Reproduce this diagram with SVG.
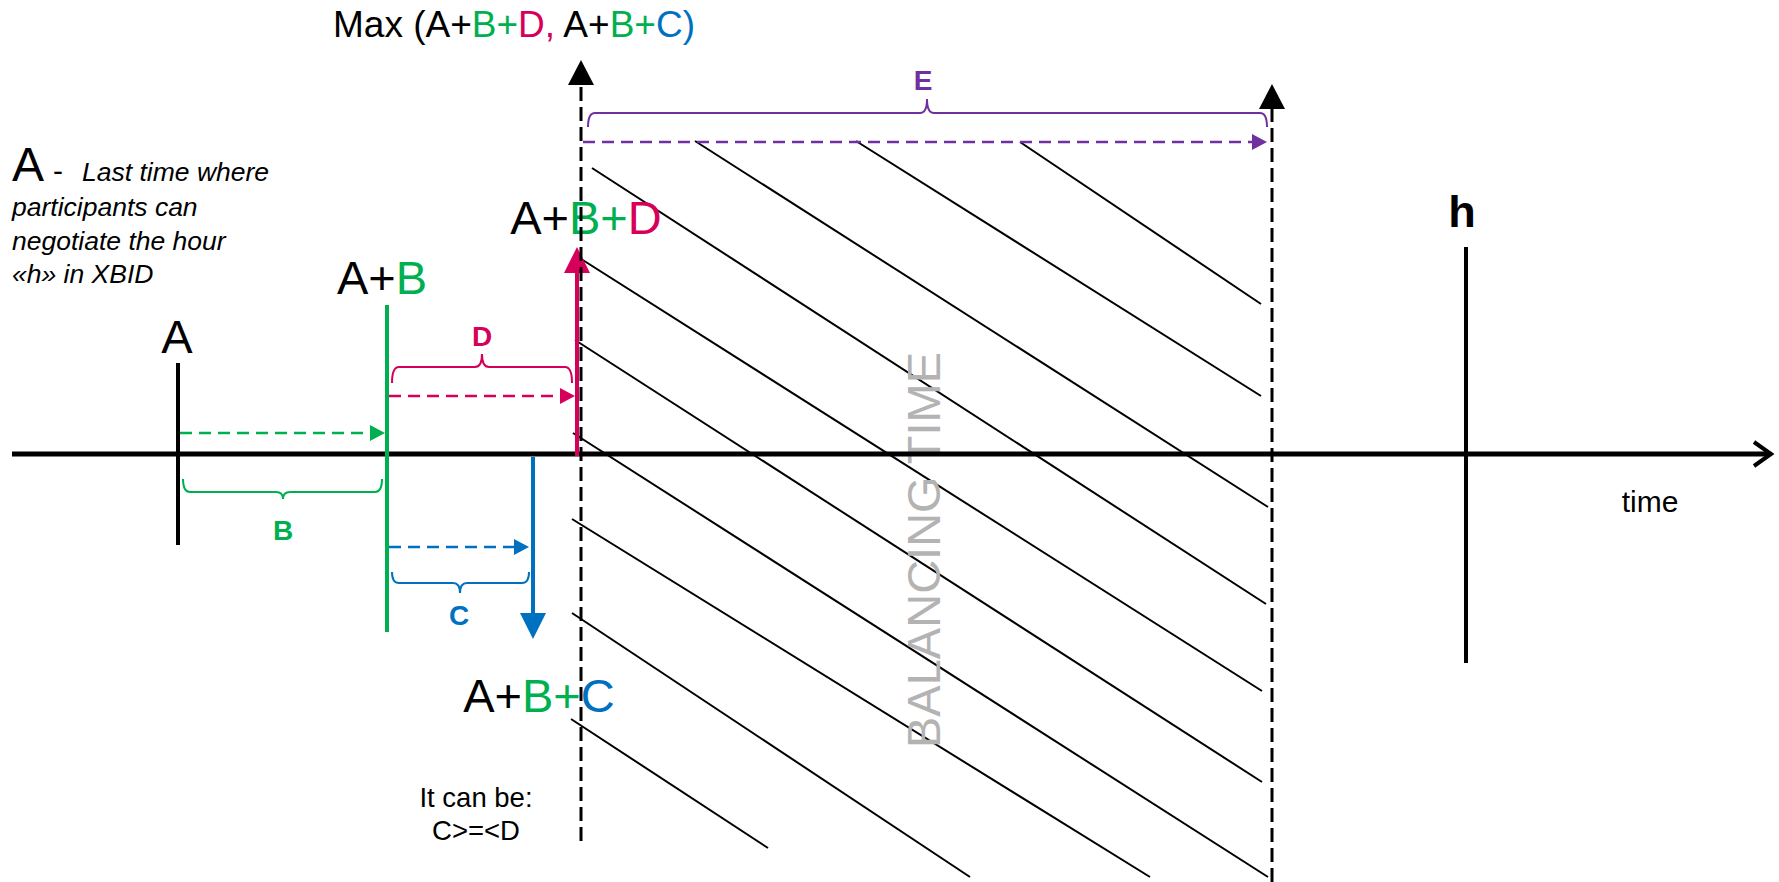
<svg xmlns="http://www.w3.org/2000/svg" width="1779" height="882" viewBox="0 0 1779 882">
<style>
text{font-family:"Liberation Sans",Arial,sans-serif;}
.big{font-size:47px;fill:#000;}
.k{fill:#000}.g{fill:#00B050}.r{fill:#D6005A}.b{fill:#0070C0}.p{fill:#7030A0}
.lbl{font-size:28px;font-weight:bold;text-anchor:middle;}
.note{font-size:26.5px;font-style:italic;fill:#000;}
.hatch{stroke:#000;stroke-width:2;fill:none;}
.brace{fill:none;stroke-width:2;}
.dash{fill:none;stroke-width:2.5;stroke-dasharray:12 7;}
.bdash{fill:none;stroke:#000;stroke-width:3;stroke-dasharray:14 6;}
</style>
<defs>
<marker id="mG" markerUnits="userSpaceOnUse" markerWidth="16" markerHeight="16" refX="0" refY="8" orient="auto"><path d="M0,0 L15,8 L0,16 z" fill="#00B050"/></marker>
<marker id="mR" markerUnits="userSpaceOnUse" markerWidth="16" markerHeight="16" refX="0" refY="8" orient="auto"><path d="M0,0 L15,8 L0,16 z" fill="#D6005A"/></marker>
<marker id="mB" markerUnits="userSpaceOnUse" markerWidth="16" markerHeight="16" refX="0" refY="8" orient="auto"><path d="M0,0 L15,8 L0,16 z" fill="#0070C0"/></marker>
<marker id="mP" markerUnits="userSpaceOnUse" markerWidth="16" markerHeight="16" refX="0" refY="8" orient="auto"><path d="M0,0 L15,8 L0,16 z" fill="#7030A0"/></marker>
<marker id="MR" markerUnits="userSpaceOnUse" markerWidth="28" markerHeight="28" refX="0" refY="13" orient="auto"><path d="M0,0 L26,13 L0,26 z" fill="#D6005A"/></marker>
<marker id="MB" markerUnits="userSpaceOnUse" markerWidth="28" markerHeight="28" refX="0" refY="13" orient="auto"><path d="M0,0 L26,13 L0,26 z" fill="#0070C0"/></marker>
<marker id="MK" markerUnits="userSpaceOnUse" markerWidth="28" markerHeight="28" refX="0" refY="13" orient="auto"><path d="M0,0 L25,13 L0,26 z" fill="#000"/></marker>
</defs>
<rect width="1779" height="882" fill="#fff"/>

<g id="hatching">
<line class="hatch" x1="1020" y1="142" x2="1261" y2="304"/>
<line class="hatch" x1="856" y1="141" x2="1261" y2="396"/>
<line class="hatch" x1="695" y1="141" x2="1268" y2="507"/>
<line class="hatch" x1="592" y1="168" x2="1266" y2="604"/>
<line class="hatch" x1="578" y1="257" x2="1262" y2="691"/>
<line class="hatch" x1="575" y1="340" x2="1262" y2="782"/>
<line class="hatch" x1="573" y1="433" x2="1268" y2="877"/>
<line class="hatch" x1="572" y1="519" x2="1150" y2="877"/>
<line class="hatch" x1="572" y1="613" x2="970" y2="877"/>
<line class="hatch" x1="571" y1="719" x2="768" y2="848"/>
</g>

<text id="balancing-time" transform="translate(940,748) rotate(-90)" font-size="47" fill="#B3B3B3">BALANCING TIME</text>

<g id="axis">
<line x1="12" y1="454" x2="1770" y2="454" stroke="#000" stroke-width="5"/>
<polyline points="1754,442 1771,454 1754,466" fill="none" stroke="#000" stroke-width="4"/>
<text x="1650" y="512" font-size="30" text-anchor="middle">time</text>
</g>

<g id="node-A-desc">
<text x="12" y="181" font-size="48">A</text>
<text x="53" y="181" font-size="30">-</text>
<text class="note" x="82" y="181">Last time where</text>
<text class="note" x="12" y="216">participants can</text>
<text class="note" x="12" y="250">negotiate the hour</text>
<text class="note" x="12" y="283">«h» in XBID</text>
</g>

<g id="node-A">
<line x1="178" y1="363" x2="178" y2="545" stroke="#000" stroke-width="4"/>
<text class="big" x="177" y="353" text-anchor="middle">A</text>
</g>

<g id="node-AB">
<line x1="387" y1="305" x2="387" y2="632" stroke="#00B050" stroke-width="4"/>
<text class="big" x="382" y="294" text-anchor="middle">A+<tspan class="g">B</tspan></text>
</g>

<g id="node-ABD">
<text class="big" x="586" y="234" text-anchor="middle">A+<tspan class="g">B+</tspan><tspan class="r">D</tspan></text>
</g>

<g id="node-ABC">
<text class="big" x="539" y="712" text-anchor="middle">A+<tspan class="g">B+</tspan><tspan class="b">C</tspan></text>
<text x="476" y="807" font-size="27.5" text-anchor="middle">It can be:</text>
<text x="476" y="840" font-size="27.5" text-anchor="middle">C&gt;=&lt;D</text>
</g>

<g id="node-max">
<text x="514" y="37" font-size="37" text-anchor="middle">Max (A+<tspan class="g">B+</tspan><tspan class="r">D,</tspan> A+<tspan class="g">B+</tspan><tspan class="b">C)</tspan></text>
</g>

<g id="node-h">
<line x1="1466" y1="247" x2="1466" y2="663" stroke="#000" stroke-width="4"/>
<text x="1462" y="227" font-size="45" font-weight="bold" text-anchor="middle">h</text>
</g>

<g id="braces">
<path class="brace" stroke="#00B050" d="M183,479 Q183,492 190,492 L276,492 Q283,492 283,499 Q283,492 290,492 L375,492 Q382,492 382,479"/>
<text class="lbl g" x="283" y="540">B</text>
<path class="brace" stroke="#0070C0" d="M392,572 Q392,583 399,583 L453,583 Q460,583 460,593 Q460,583 467,583 L522,583 Q529,583 529,572"/>
<text class="lbl b" x="459" y="625">C</text>
<path class="brace" stroke="#D6005A" d="M392,383 Q392,367 399,367 L475,367 Q482,367 482,354 Q482,367 489,367 L565,367 Q572,367 572,383"/>
<text class="lbl r" x="482" y="346">D</text>
<path class="brace" stroke="#7030A0" d="M588,127 Q588,113 595,113 L920,113 Q927,113 927,99 Q927,113 934,113 L1260,113 Q1267,113 1267,127"/>
<text class="lbl p" x="923" y="90" font-size="30">E</text>
</g>

<g id="connectors">
<line class="dash" stroke="#00B050" x1="180" y1="433" x2="370" y2="433" marker-end="url(#mG)"/>
<line class="dash" stroke="#D6005A" x1="389" y1="396" x2="560" y2="396" marker-end="url(#mR)"/>
<line class="dash" stroke="#0070C0" x1="389" y1="547" x2="514" y2="547" marker-end="url(#mB)"/>
<line class="dash" stroke="#7030A0" x1="583" y1="142" x2="1252" y2="142" marker-end="url(#mP)"/>
<line x1="577" y1="456" x2="577" y2="273" stroke="#D6005A" stroke-width="4" marker-end="url(#MR)"/>
<line x1="533" y1="457" x2="533" y2="613" stroke="#0070C0" stroke-width="4" marker-end="url(#MB)"/>
<line class="bdash" x1="581" y1="841" x2="581" y2="85" marker-end="url(#MK)"/>
<line class="bdash" x1="1272" y1="882" x2="1272" y2="109" marker-end="url(#MK)"/>
</g>
</svg>
